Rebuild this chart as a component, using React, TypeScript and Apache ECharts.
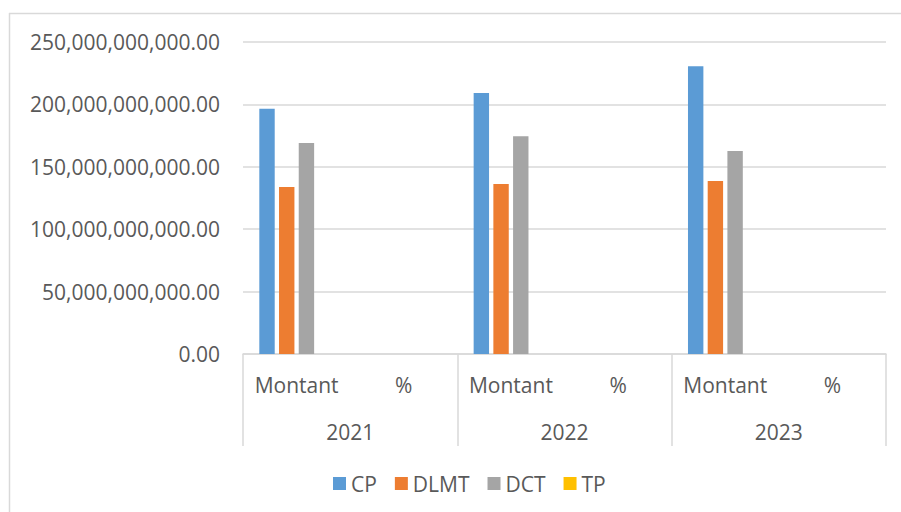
import React, { useEffect, useRef } from "react";
import * as echarts from "echarts";

// Years (outer axis level) and the two columns shown under each year
const years = ["2021", "2022", "2023"];
const subColumns = ["Montant", "%"];

// Amounts per year ("Montant" column)
const cpMontant = [196.6e9, 209.1e9, 230.5e9];
const dlmtMontant = [133.8e9, 136.2e9, 138.6e9];
const dctMontant = [169.1e9, 174.4e9, 162.7e9];
const tpMontant = [null, null, null];

// Share columns ("%" column) – too small to show on this scale
const cpPct = [null, null, null];
const dlmtPct = [null, null, null];
const dctPct = [null, null, null];
const tpPct = [null, null, null];

const seriesNames = ["CP", "DLMT", "DCT", "TP"];
const seriesColors = ["#5B9BD5", "#ED7D31", "#A5A5A5", "#FFC000"];

const yTicks = { min: 0, max: 250e9, interval: 50e9 };

const FONT = "'Open Sans', 'Noto Sans', sans-serif";
const TEXT = "#595959";
const LINE = "#D9D9D9";

function interleave(montant: (number | null)[], pct: (number | null)[]) {
  return years.flatMap((_, i) => [montant[i], pct[i]]);
}

export default function App() {
  const ref = useRef<HTMLDivElement>(null);

  useEffect(() => {
    if (!ref.current) return;
    const chart = echarts.init(ref.current, undefined, { renderer: "svg" });

    const innerCategories = years.flatMap(() => subColumns);
    const seriesData = [
      interleave(cpMontant, cpPct),
      interleave(dlmtMontant, dlmtPct),
      interleave(dctMontant, dctPct),
      interleave(tpMontant, tpPct),
    ];

    chart.setOption({
      animation: false,
      backgroundColor: "#ffffff",
      textStyle: { fontFamily: FONT },
      // chart frame: top and left edges
      graphic: [
        {
          type: "line",
          shape: { x1: 9, y1: 13.5, x2: 901, y2: 13.5 },
          style: { stroke: LINE, lineWidth: 1.5 },
          silent: true,
        },
        {
          type: "line",
          shape: { x1: 9.5, y1: 13, x2: 9.5, y2: 512 },
          style: { stroke: LINE, lineWidth: 1.5 },
          silent: true,
        },
      ],
      grid: { left: 243, right: 15, top: 42, bottom: 158, containLabel: false },
      legend: {
        data: seriesNames,
        left: 328,
        top: 468,
        itemWidth: 13,
        itemHeight: 13,
        itemGap: 18,
        icon: "rect",
        textStyle: { color: TEXT, fontSize: 21, fontFamily: FONT },
      },
      xAxis: [
        {
          type: "category",
          data: innerCategories,
          position: "bottom",
          axisLine: { show: true, lineStyle: { color: LINE, width: 1.5 } },
          axisTick: { show: false },
          axisLabel: { color: TEXT, fontSize: 21, fontFamily: FONT, margin: 20, interval: 0 },
        },
        {
          type: "category",
          data: years,
          position: "bottom",
          axisLine: { show: false },
          axisTick: {
            show: true,
            length: 92,
            alignWithLabel: false,
            lineStyle: { color: LINE, width: 1.5 },
          },
          axisLabel: { color: TEXT, fontSize: 21, fontFamily: FONT, margin: 67 },
          splitLine: { show: false },
        },
      ],
      yAxis: {
        type: "value",
        min: yTicks.min,
        max: yTicks.max,
        interval: yTicks.interval,
        axisLine: { show: false },
        axisTick: { show: false },
        splitLine: { lineStyle: { color: LINE, width: 1.5 } },
        axisLabel: {
          color: TEXT,
          fontSize: 21,
          fontFamily: FONT,
          margin: 23,
          formatter: (v: number) =>
            v.toLocaleString("en-US", { minimumFractionDigits: 2, maximumFractionDigits: 2 }),
        },
      },
      series: seriesNames.map((name, i) => ({
        name,
        type: "bar",
        xAxisIndex: 0,
        data: seriesData[i],
        barWidth: 15.4,
        barGap: "28%",
        itemStyle: { color: seriesColors[i] },
      })),
    });

    return () => chart.dispose();
  }, []);

  return (
    <div
      ref={ref}
      style={{ position: "absolute", left: 0, top: 0, width: 901, height: 512 }}
    />
  );
}
